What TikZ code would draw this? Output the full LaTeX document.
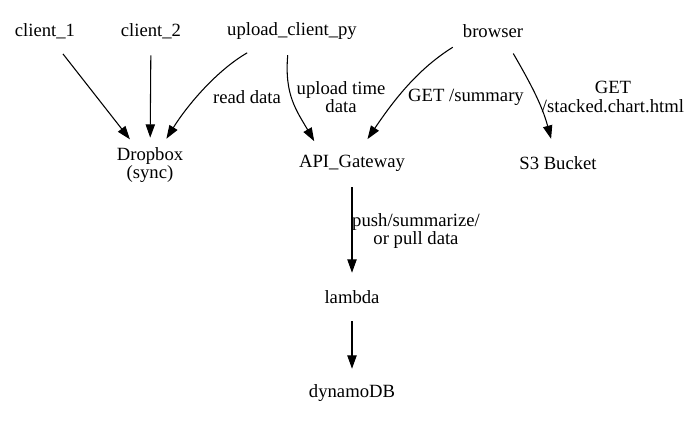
\documentclass[tikz,border=0pt]{standalone}
\usepackage{fontspec}
\setmainfont{Liberation Serif}
\usetikzlibrary{arrows.meta,shapes.geometric}

\begin{document}
\begin{tikzpicture}[
    x=0.75pt, y=0.75pt,
    font=\fontsize{14}{14}\selectfont,
    svc/.style={ellipse, inner xsep=6pt, inner ysep=1pt, minimum height=36pt, align=center},
    lbl/.style={align=center, inner sep=0pt},
    flow/.style={-{Triangle[length=10pt, width=7pt]}, line width=0.8pt}
]
\useasboundingbox (0,0) rectangle (692,-423);

% Sources
\node[svc] (client1) at (45,-31) {client\_1};
\node[svc] (client2) at (151,-31) {client\_2};
\node[svc] (uploader) at (292,-31) {upload\_client\_py};
\node[svc] (browser) at (493,-31) {browser};

% Services
\node[svc] (dropbox) at (150,-165) {Dropbox\\(sync)};
\node[svc] (gateway) at (352,-163) {API\_Gateway};
\node[svc] (bucket) at (558,-163) {S3 Bucket};
\node[svc] (lambda) at (352,-297) {lambda};
\node[svc] (dynamo) at (352,-393) {dynamoDB};

% Edge labels
\node[lbl] (readlbl) at (247,-97) {read data};
\node[lbl] (uploadlbl) at (341,-97) {upload time\\data};
\node[lbl] (summarylbl) at (466,-97) {GET /summary};
\node[lbl] (chartlbl) at (613,-97) {GET\\/stacked.chart.html};
\node[lbl] (pushlbl) at (416,-231) {push/summarize/\\or pull data};

% Arrows
\draw[flow] (client1) -- (dropbox);
\draw[flow] (client2) -- (dropbox);
\draw[flow] (uploader.206) .. controls +(210:35) and +(58:40) .. (dropbox.58);
\draw[flow] (uploader.260) .. controls +(265:40) and +(120:35) .. (gateway.150);
\draw[flow] (browser.202) .. controls +(212:40) and +(56:50) .. (gateway.57);
\draw[flow] (browser.312) .. controls +(300:35) and +(105:35) .. (bucket.106);
\draw[flow] (gateway) -- (lambda);
\draw[flow] (lambda) -- (dynamo);

\end{tikzpicture}
\end{document}
